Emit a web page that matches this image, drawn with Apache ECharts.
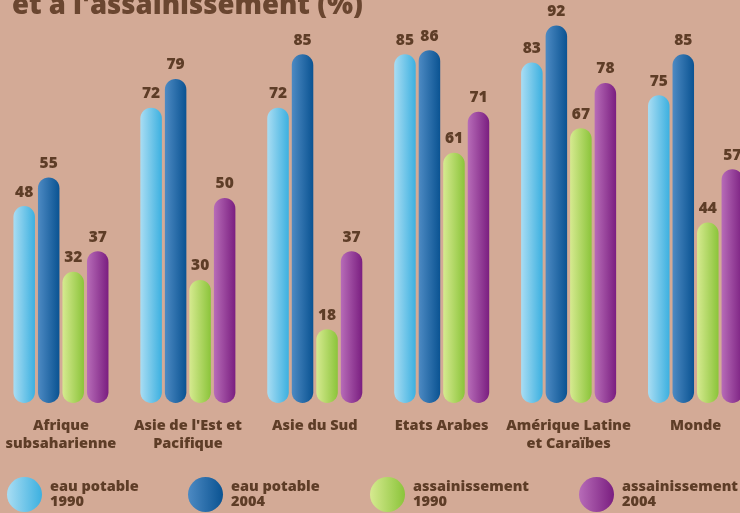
<!DOCTYPE html>
<html>
<head>
<meta charset="utf-8">
<script src="https://cdn.jsdelivr.net/npm/echarts@6/dist/echarts.min.js"></script>
<style>
html,body{margin:0;padding:0;background:#d3aa96;}
#c{width:740px;height:513px;}
</style>
</head>
<body>
<div id="c"></div>
<script>
const titleLine = "et à l'assainissement (%)";
const categories = ['Afrique\nsubsaharienne', "Asie de l'Est et\nPacifique", 'Asie du Sud', 'Etats Arabes', 'Amérique Latine\net Caraïbes', 'Monde'];
const seriesNames = ['eau potable\n1990', 'eau potable\n2004', 'assainissement\n1990', 'assainissement\n2004'];
const eau1990 = [48, 72, 72, 85, 83, 75];
const eau2004 = [55, 79, 85, 86, 92, 85];
const assain1990 = [32, 30, 18, 61, 67, 44];
const assain2004 = [37, 50, 37, 71, 78, 57];

const values = [eau1990, eau2004, assain1990, assain2004];
const grads = [
  ['#a9ddf3', '#3cb0e0'],
  ['#4d8ac3', '#0a5392'],
  ['#d6ea90', '#8bc43a'],
  ['#b76cb8', '#7a1e80']
];
const legendLeft = [7, 188, 370, 579];
const textColor = '#5e3d27';
const font = "'Open Sans', sans-serif";

function grad(c) {
  return new echarts.graphic.LinearGradient(0, 0, 1, 0, [
    {offset: 0, color: c[0]}, {offset: 1, color: c[1]}
  ]);
}

const chart = echarts.init(document.getElementById('c'));
chart.setOption({
  backgroundColor: '#d3aa96',
  animation: false,
  title: {
    text: titleLine,
    left: 7,
    top: -13,
    textStyle: {fontFamily: font, fontSize: 27.5, fontWeight: 800, color: '#6a4630'}
  },
  legend: seriesNames.map((n, i) => ({
    data: [n],
    left: legendLeft[i],
    top: 477,
    padding: 0,
    icon: 'circle',
    itemWidth: 35,
    itemHeight: 35,
    selectedMode: false,
    textStyle: {fontFamily: font, fontSize: 14.5, fontWeight: 800, color: textColor, lineHeight: 15, padding: [0, 0, 0, 3]}
  })),
  grid: {left: -2.5, width: 761.5, top: 1, bottom: 110, containLabel: false, outerBoundsMode: 'none'},
  xAxis: {
    type: 'category',
    data: categories,
    axisLine: {show: false},
    axisTick: {show: false},
    axisLabel: {interval: 0, margin: 14, fontFamily: font, fontSize: 14.5, fontWeight: 800, color: textColor, lineHeight: 18}
  },
  yAxis: {type: 'value', min: 0, max: 98, show: false, splitLine: {show: false}},
  series: seriesNames.map((n, i) => ({
    name: n,
    type: 'bar',
    data: values[i],
    barWidth: 21.5,
    barGap: '14%',
    itemStyle: {color: grad(grads[i]), borderRadius: 11},
    label: {show: true, position: 'top', distance: 6, fontFamily: font, fontSize: 15.5, fontWeight: 800, color: textColor}
  }))
});
</script>
</body>
</html>
